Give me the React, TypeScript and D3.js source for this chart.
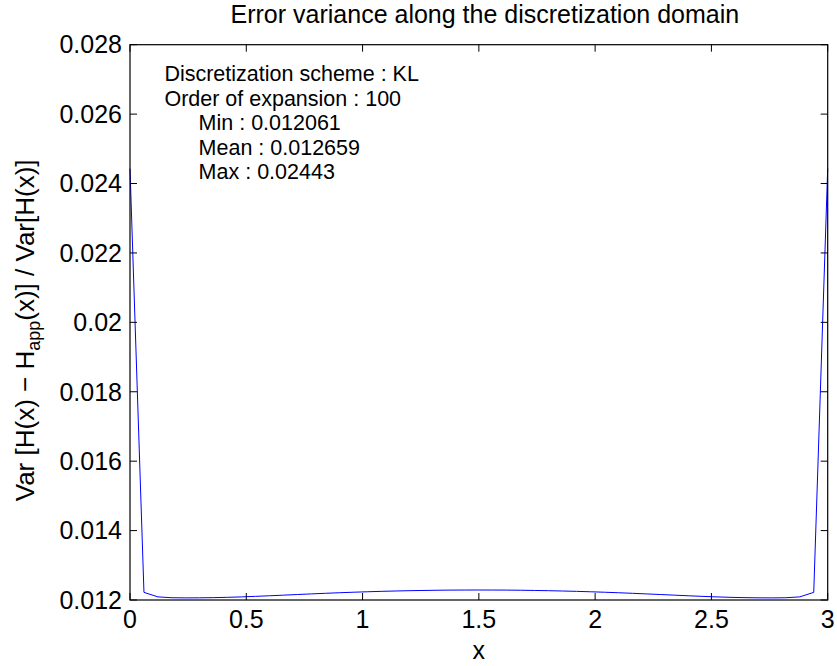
import * as d3 from "d3";
import React from "react";

// discretization grid and error variance values
const xs = [
  0, 0.06, 0.12, 0.18, 0.24, 0.3, 0.36, 0.42, 0.48, 0.54, 0.6, 0.66, 0.72,
  0.78, 0.84, 0.9, 0.96, 1.02, 1.08, 1.14, 1.2, 1.26, 1.32, 1.38, 1.44, 1.5,
  1.56, 1.62, 1.68, 1.74, 1.8, 1.86, 1.92, 1.98, 2.04, 2.1, 2.16, 2.22, 2.28,
  2.34, 2.4, 2.46, 2.52, 2.58, 2.64, 2.7, 2.76, 2.82, 2.88, 2.94, 3.0,
];
const errVar = [
  0.02443, 0.01222, 0.01209, 0.012065, 0.012061, 0.012063, 0.012068,
  0.012077, 0.01209, 0.012105, 0.012122, 0.01214, 0.012158, 0.012176,
  0.012193, 0.012209, 0.012224, 0.012237, 0.012249, 0.012259, 0.012268,
  0.012275, 0.012281, 0.012285, 0.012287, 0.012288, 0.012287, 0.012285,
  0.012281, 0.012275, 0.012268, 0.012259, 0.012249, 0.012237, 0.012224,
  0.012209, 0.012193, 0.012176, 0.012158, 0.01214, 0.012122, 0.012105,
  0.01209, 0.012077, 0.012068, 0.012063, 0.012061, 0.012065, 0.01209,
  0.01222, 0.02443,
];

const xTicks = [0, 0.5, 1, 1.5, 2, 2.5, 3];
const xTickLabels = ["0", "0.5", "1", "1.5", "2", "2.5", "3"];
const yTicks = [0.012, 0.014, 0.016, 0.018, 0.02, 0.022, 0.024, 0.026, 0.028];
const yTickLabels = [
  "0.012", "0.014", "0.016", "0.018", "0.02", "0.022", "0.024", "0.026", "0.028",
];

const infoLines = [
  "Discretization scheme : KL",
  "Order of expansion : 100",
  "Min : 0.012061",
  "Mean : 0.012659",
  "Max : 0.02443",
];

const W = 837;
const H = 666;
const margin = { top: 44.7, right: 9.3, bottom: 66, left: 130 };
const FONT = "'Liberation Sans', Arial, Helvetica, sans-serif";

export default function App() {
  const x = d3
    .scaleLinear()
    .domain([0, 3])
    .range([margin.left, W - margin.right]);
  const y = d3
    .scaleLinear()
    .domain([0.012, 0.028])
    .range([H - margin.bottom, margin.top]);

  const line = d3
    .line<number>()
    .x((_, i) => x(xs[i]))
    .y((d) => y(d));

  const [x0, x1] = x.range();
  const [y0, y1] = y.range();
  const tick = 7;
  const cx = (x0 + x1) / 2;
  const cy = (y0 + y1) / 2;

  return (
    <svg
      width={W}
      height={H}
      style={{ position: "absolute", left: 0, top: 0, background: "#fff" }}
      fontFamily={FONT}
    >
      <rect width={W} height={H} fill="#fff" />

      {/* curve */}
      <path d={line(errVar) || ""} fill="none" stroke="#0000ff" strokeWidth={1} />

      {/* frame */}
      <rect
        x={x0}
        y={y1}
        width={x1 - x0}
        height={y0 - y1}
        fill="none"
        stroke="#000"
        strokeWidth={1.2}
      />

      {/* x ticks, bottom and top */}
      {xTicks.map((t, i) => (
        <g key={"x" + i}>
          <line x1={x(t)} x2={x(t)} y1={y0} y2={y0 - tick} stroke="#000" />
          <line x1={x(t)} x2={x(t)} y1={y1} y2={y1 + tick} stroke="#000" />
          <text
            x={x(t)}
            y={y0 + 28}
            textAnchor="middle"
            fontSize={25}
            fill="#000"
          >
            {xTickLabels[i]}
          </text>
        </g>
      ))}

      {/* y ticks, left and right */}
      {yTicks.map((t, i) => (
        <g key={"y" + i}>
          <line x1={x0} x2={x0 + tick} y1={y(t)} y2={y(t)} stroke="#000" />
          <line x1={x1} x2={x1 - tick} y1={y(t)} y2={y(t)} stroke="#000" />
          <text
            x={x0 - 8}
            y={y(t)}
            dy="0.35em"
            textAnchor="end"
            fontSize={25}
            fill="#000"
          >
            {yTickLabels[i]}
          </text>
        </g>
      ))}

      {/* title */}
      <text x={cx + 6} y={23} textAnchor="middle" fontSize={25} fill="#000">
        Error variance along the discretization domain
      </text>

      {/* x label */}
      <text x={cx} y={659} textAnchor="middle" fontSize={25} fill="#000">
        x
      </text>

      {/* y label */}
      <text
        transform={`translate(34,${cy + 8}) rotate(-90)`}
        textAnchor="middle"
        fontSize={26}
        fill="#000"
      >
        Var [H(x) − H
        <tspan fontSize={18} dy={6}>
          app
        </tspan>
        <tspan dy={-6}>(x)] / Var[H(x)]</tspan>
      </text>

      {/* info text */}
      {infoLines.map((s, i) => (
        <text
          key={"t" + i}
          x={i < 2 ? x(0.148) : x(0.295)}
          y={81 + i * 24.6}
          fontSize={21.5}
          fill="#000"
        >
          {s}
        </text>
      ))}
    </svg>
  );
}
